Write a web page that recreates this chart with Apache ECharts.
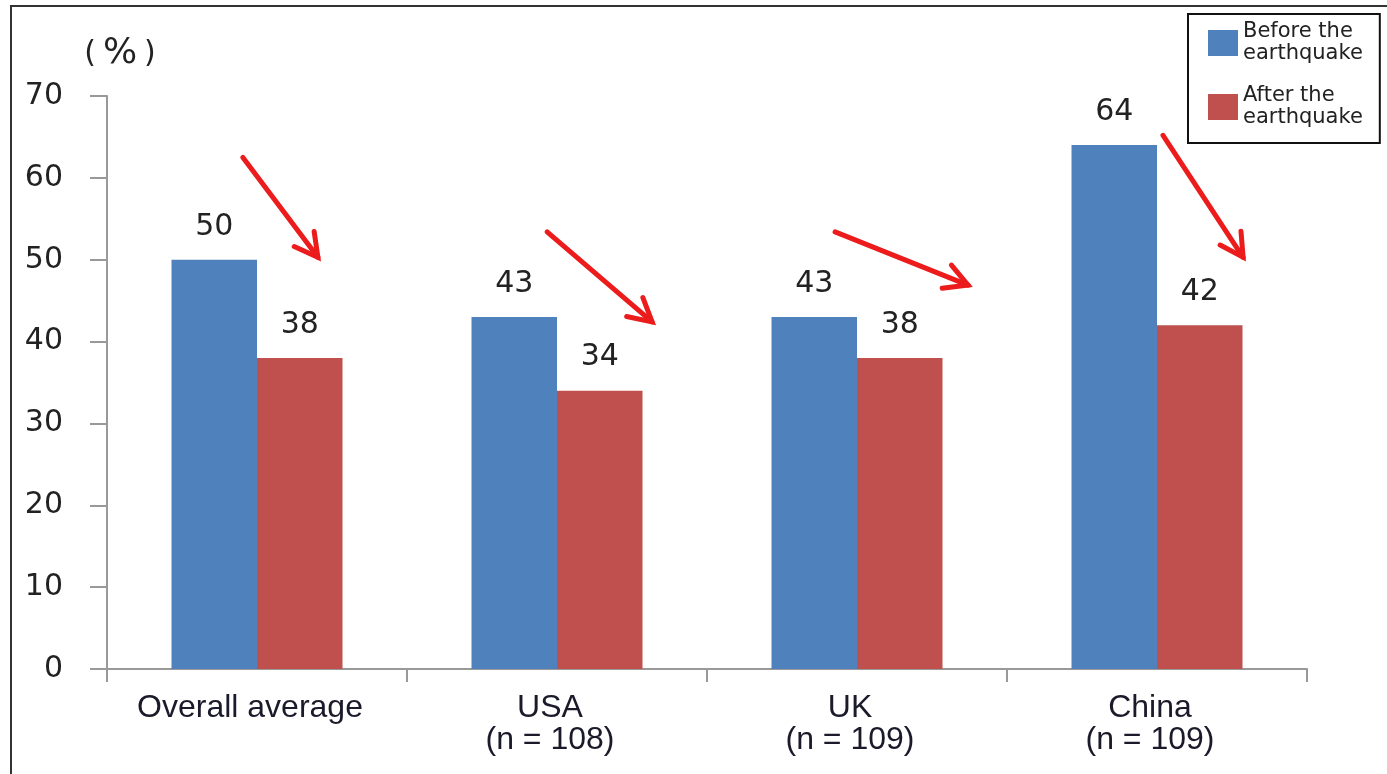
<!DOCTYPE html>
<html><head><meta charset="utf-8">
<script src="https://cdn.jsdelivr.net/npm/echarts@6/dist/echarts.min.js"></script>
<style>html,body{margin:0;padding:0;background:#fff}#c{width:1387px;height:774px}</style>
</head><body><div id="c"></div>
<script>
const categories = ['Overall average', 'USA\n(n = 108)', 'UK\n(n = 109)', 'China\n(n = 109)'];
const before = [50, 43, 43, 64];
const after = [38, 34, 38, 42];
const seriesNames = ['Before the\nearthquake', 'After the\nearthquake'];
const yTicks = [0, 10, 20, 30, 40, 50, 60, 70];
const yUnit = '{p|(}{s|%}{p|)}';
// arrows: [startCategoryPos, startValue, endCategoryPos, endValue]
const arrows = [
  [-0.047, 62.5, 0.203, 50.3],
  [0.967, 53.4, 1.317, 42.4],
  [1.927, 53.4, 2.37, 46.9],
  [3.02, 65.2, 3.287, 50.3]
];

const chart = echarts.init(document.getElementById('c'));
const numFont = 'DejaVu Sans';
const txtFont = 'Liberation Sans';
chart.setOption({
  animation: false,
  backgroundColor: '#fff',
  graphic: [{
    type: 'rect', shape: {x: 11, y: 6, width: 1420, height: 820},
    style: {fill: 'none', stroke: '#333', lineWidth: 2}, z: 0, silent: true
  }],
  legend: {
    orient: 'vertical', left: 1188, top: 14,
    padding: [7, 17, 14, 20], itemGap: 20,
    itemWidth: 30, itemHeight: 26,
    borderColor: '#111', borderWidth: 2,
    icon: 'rect',
    data: seriesNames,
    textStyle: {fontFamily: numFont, fontSize: 21, lineHeight: 22, color: '#222'}
  },
  grid: {left: 107, right: 80, top: 96, bottom: 105},
  xAxis: [{
    type: 'category', data: categories,
    axisLine: {lineStyle: {color: '#999', width: 2}},
    axisTick: {show: true, length: 13, lineStyle: {color: '#999', width: 2}},
    axisLabel: {fontFamily: txtFont, fontSize: 32, color: '#1a1a2a', lineHeight: 32, margin: 23, interval: 0, padding: [0, 14, 0, 0]}
  }, {
    type: 'value', min: -0.5, max: 3.5, show: false
  }],
  yAxis: {
    type: 'value', min: 0, max: 70, interval: 10,
    name: yUnit, nameLocation: 'end', nameGap: 24,
    nameTextStyle: {align: 'center', padding: [0, 0, 0, 26],
      rich: {
        p: {fontFamily: numFont, fontSize: 30, color: '#222', padding: [0, 7, 0, 7]},
        s: {fontFamily: numFont, fontSize: 36, color: '#222'}
      }},
    axisLine: {show: true, onZero: false, lineStyle: {color: '#999', width: 2}},
    axisTick: {show: true, length: 17, lineStyle: {color: '#999', width: 2}},
    splitLine: {show: false},
    axisLabel: {fontFamily: numFont, fontSize: 30, color: '#222', margin: 44,
      formatter: v => yTicks.includes(v) ? String(v) : ''}
  },
  series: [{
    name: seriesNames[0], type: 'bar', data: before,
    itemStyle: {color: '#4f81bd'}, barGap: '0%', barCategoryGap: '43%',
    label: {show: true, position: 'top', distance: 18, fontFamily: numFont, fontSize: 30, color: '#222'}
  }, {
    name: seriesNames[1], type: 'bar', data: after,
    itemStyle: {color: '#c0504d'},
    label: {show: true, position: 'top', distance: 18, fontFamily: numFont, fontSize: 30, color: '#222'}
  }, {
    type: 'custom', xAxisIndex: 1, data: arrows, silent: true, z: 10,
    renderItem: function (params, api) {
      const p1 = api.coord([api.value(0), api.value(1)]);
      const p2 = api.coord([api.value(2), api.value(3)]);
      const ang = Math.atan2(p2[1] - p1[1], p2[0] - p1[0]);
      const L = 26, spread = 0.5;
      const a1 = [p2[0] - L * Math.cos(ang - spread), p2[1] - L * Math.sin(ang - spread)];
      const a2 = [p2[0] - L * Math.cos(ang + spread), p2[1] - L * Math.sin(ang + spread)];
      const st = {stroke: '#ec1c1c', lineWidth: 5, fill: 'none', lineCap: 'round', lineJoin: 'miter'};
      return {type: 'group', children: [
        {type: 'line', shape: {x1: p1[0], y1: p1[1], x2: p2[0], y2: p2[1]}, style: st},
        {type: 'polyline', shape: {points: [a1, p2, a2]}, style: st}
      ]};
    }
  }]
});
</script></body></html>
